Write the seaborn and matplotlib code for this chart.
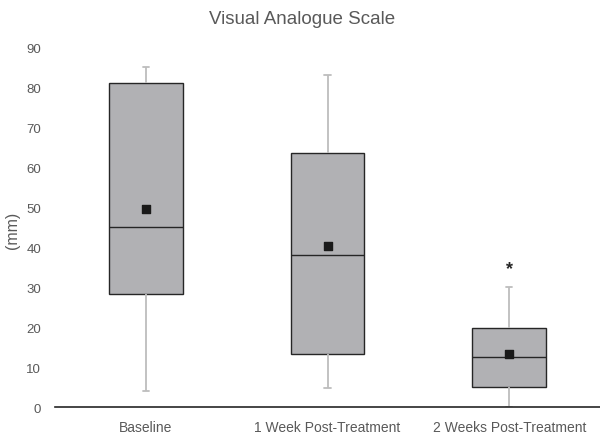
import matplotlib
matplotlib.use("Agg")
import pandas as pd
import matplotlib.pyplot as plt
import seaborn as sns

# five-number summaries (min, q1, median, q3, max)
groups = ["Baseline", "1 Week Post-Treatment", "2 Weeks Post-Treatment"]
baseline = [4, 28.25, 45, 81, 85]
week1 = [4.75, 13.25, 38, 63.5, 83]
week2 = [0, 5, 12.5, 19.75, 30]
means = [49.5, 40.2, 13.2]
outlier_group = [2]
outlier_value = [34.5]

sns.set_theme(style="white")
plt.rcParams["font.family"] = ["Liberation Sans", "DejaVu Sans"]

df = pd.DataFrame({
    "group": [groups[0]] * 5 + [groups[1]] * 5 + [groups[2]] * 5,
    "value": baseline + week1 + week2,
})

fig = plt.figure(figsize=(6, 4.35), dpi=100)
ax = fig.add_axes([0.092, 0.062, 0.908, 0.8276])

text_col = "#595959"
sns.boxplot(
    data=df, x="group", y="value", order=groups, ax=ax,
    whis=(0, 100), width=0.405, color="#b1b1b4", saturation=1,
    linecolor="#262626", linewidth=1.0, capwidths=0.035,
    whiskerprops={"color": "#bdbdbd", "linewidth": 1.3},
    capprops={"color": "#bdbdbd", "linewidth": 1.3},
    medianprops={"color": "#262626", "linewidth": 1.0},
    showfliers=False,
)

ax.scatter(range(len(groups)), means, marker="s", s=30, color="#1a1a1a", zorder=5)
for g, v in zip(outlier_group, outlier_value):
    ax.text(g, v, "*", ha="center", va="center", fontsize=13,
            fontweight="bold", color="#262626")

ax.set_ylim(0, 90)
ax.set_xlim(-0.5, 2.5)
ax.set_yticks(range(0, 91, 10))
ax.tick_params(axis="both", colors=text_col, labelsize=10, length=0)
ax.tick_params(axis="x", pad=9)
ax.tick_params(axis="y", pad=10, labelsize=9.5)
ax.set_xlabel("")
ax.set_ylabel("(mm)", color=text_col, fontsize=11.5, va="center")
ax.yaxis.set_label_coords(-0.079, 0.494)
fig.text(0.503, 0.955, "Visual Analogue Scale", color=text_col, fontsize=13.5,
         ha="center", va="center")

for side in ["top", "right", "left"]:
    ax.spines[side].set_visible(False)
ax.spines["bottom"].set_color("#262626")
ax.spines["bottom"].set_linewidth(1.2)

fig.savefig("out.png", dpi=100)
